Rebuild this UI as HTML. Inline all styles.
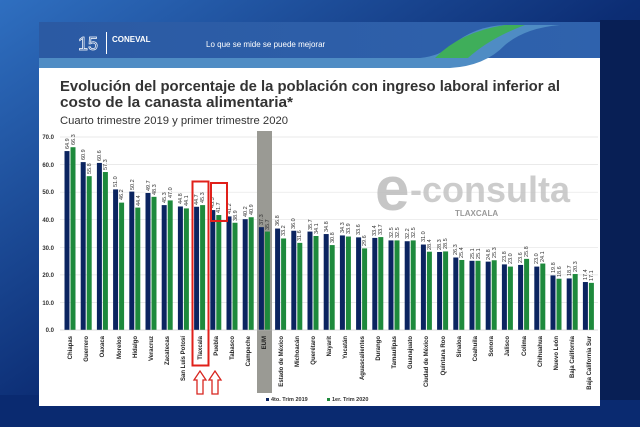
<!DOCTYPE html>
<html><head><meta charset="utf-8"><style>
html,body{margin:0;padding:0;width:640px;height:427px;overflow:hidden;background:#0b2f78;}
svg{display:block}
text{font-family:"Liberation Sans",sans-serif}
</style></head><body>
<svg width="640" height="427" viewBox="0 0 640 427">
<defs>
<linearGradient id="bg" x1="0" y1="0" x2="1" y2="1">
<stop offset="0" stop-color="#2f6fc0"/><stop offset="0.5" stop-color="#0c2d74"/><stop offset="1" stop-color="#061a4a"/>
</linearGradient>
<linearGradient id="hd" x1="0" y1="0" x2="1" y2="0">
<stop offset="0" stop-color="#2b5aa3"/><stop offset="1" stop-color="#2f62ad"/>
</linearGradient>
</defs>
<rect width="640" height="427" fill="url(#bg)"/>
<rect x="0" y="395" width="640" height="32" fill="#0a2a70"/>
<rect x="600" y="20" width="40" height="380" fill="#081f55"/>
<!-- panel -->
<rect x="39" y="22" width="561" height="384" fill="#fff"/>
<rect x="39" y="22" width="561" height="36" fill="url(#hd)"/>
<path d="M39 58 L420 58 Q440 56 452 45 Q475 26 505 25 L560 25 Q525 28 505 45 Q485 66 450 68 L39 68 Z" fill="#4f8cc4"/>
<path d="M435 58 Q460 32 505 25 L525 25 Q490 38 468 58 Z" fill="#3fae5a"/>
<text x="78" y="50" font-size="18" fill="none" stroke="#fff" stroke-width="0.7">15</text>
<rect x="106" y="32" width="1" height="22" fill="#fff"/>
<text x="112" y="42" font-size="8" font-weight="bold" fill="#fff">CONEVAL</text>
<text x="206" y="47" font-size="8" fill="#fff">Lo que se mide se puede mejorar</text>
<text x="60" y="91" font-size="14.5" font-weight="bold" fill="#333" textLength="500" lengthAdjust="spacingAndGlyphs">Evolución del porcentaje de la población con ingreso laboral inferior al</text>
<text x="60" y="107" font-size="14.5" font-weight="bold" fill="#333" textLength="233" lengthAdjust="spacingAndGlyphs">costo de la canasta alimentaria*</text>
<text x="60" y="124" font-size="11" fill="#333" textLength="228" lengthAdjust="spacingAndGlyphs">Cuarto trimestre 2019 y primer trimestre 2020</text>
<!-- grid -->
<g stroke="#e3e3e3" stroke-width="0.7">
<line x1="60" x2="598" y1="137" y2="137"/><line x1="60" x2="598" y1="164.6" y2="164.6"/><line x1="60" x2="598" y1="192.2" y2="192.2"/><line x1="60" x2="598" y1="219.7" y2="219.7"/><line x1="60" x2="598" y1="247.3" y2="247.3"/><line x1="60" x2="598" y1="274.9" y2="274.9"/><line x1="60" x2="598" y1="302.4" y2="302.4"/>
</g>
<g font-size="6" font-weight="bold" fill="#333" text-anchor="end">
<text x="54" y="139">70.0</text><text x="54" y="167">60.0</text><text x="54" y="194">50.0</text><text x="54" y="222">40.0</text><text x="54" y="250">30.0</text><text x="54" y="277">20.0</text><text x="54" y="305">10.0</text><text x="54" y="332">0.0</text>
</g>
<rect x="257" y="131" width="15" height="262" fill="#9a9a94"/>
<!-- watermark -->
<text x="375" y="210" font-size="62" font-weight="bold" fill="#bdbdbd" opacity="0.85">e</text>
<text x="410" y="202" font-size="36" font-weight="bold" fill="#c4c4c4" opacity="0.85">-consulta</text>
<text x="455" y="216" font-size="8" font-weight="bold" fill="#999">TLAXCALA</text>
<!-- bars -->
<g transform="translate(0,330) scale(1,-2.757)">
<g fill="#0b2460">
<rect x="64.5" width="5" height="64.9"/><rect x="80.7" width="5" height="60.9"/><rect x="96.9" width="5" height="60.6"/><rect x="113.1" width="5" height="51.0"/><rect x="129.3" width="5" height="50.2"/><rect x="145.5" width="5" height="49.7"/><rect x="161.7" width="5" height="45.3"/><rect x="177.9" width="5" height="44.8"/><rect x="194.1" width="5" height="44.7"/><rect x="210.3" width="5" height="43.5"/><rect x="226.5" width="5" height="41.2"/><rect x="242.7" width="5" height="40.2"/><rect x="258.9" width="5" height="37.3"/><rect x="275.1" width="5" height="36.8"/><rect x="291.3" width="5" height="36.0"/><rect x="307.5" width="5" height="35.7"/><rect x="323.7" width="5" height="34.8"/><rect x="339.9" width="5" height="34.3"/><rect x="356.1" width="5" height="33.6"/><rect x="372.3" width="5" height="33.4"/><rect x="388.5" width="5" height="32.5"/><rect x="404.7" width="5" height="32.2"/><rect x="420.9" width="5" height="31.0"/><rect x="437.1" width="5" height="28.3"/><rect x="453.3" width="5" height="26.3"/><rect x="469.5" width="5" height="25.1"/><rect x="485.7" width="5" height="24.8"/><rect x="501.9" width="5" height="23.8"/><rect x="518.1" width="5" height="23.6"/><rect x="534.3" width="5" height="23.0"/><rect x="550.5" width="5" height="19.8"/><rect x="566.7" width="5" height="18.7"/><rect x="582.9" width="5" height="17.4"/>
</g>
<g fill="#1e8a3c">
<rect x="70.5" width="5" height="66.3"/><rect x="86.7" width="5" height="55.8"/><rect x="102.9" width="5" height="57.3"/><rect x="119.1" width="5" height="46.2"/><rect x="135.3" width="5" height="44.4"/><rect x="151.5" width="5" height="48.3"/><rect x="167.7" width="5" height="47.0"/><rect x="183.9" width="5" height="44.1"/><rect x="200.1" width="5" height="45.3"/><rect x="216.3" width="5" height="41.7"/><rect x="232.5" width="5" height="38.9"/><rect x="248.7" width="5" height="40.9"/><rect x="264.9" width="5" height="35.7"/><rect x="281.1" width="5" height="33.2"/><rect x="297.3" width="5" height="31.6"/><rect x="313.5" width="5" height="34.1"/><rect x="329.7" width="5" height="30.8"/><rect x="345.9" width="5" height="33.9"/><rect x="362.1" width="5" height="29.6"/><rect x="378.3" width="5" height="33.7"/><rect x="394.5" width="5" height="32.5"/><rect x="410.7" width="5" height="32.5"/><rect x="426.9" width="5" height="28.4"/><rect x="443.1" width="5" height="28.5"/><rect x="459.3" width="5" height="25.4"/><rect x="475.5" width="5" height="25.1"/><rect x="491.7" width="5" height="25.3"/><rect x="507.9" width="5" height="23.0"/><rect x="524.1" width="5" height="25.8"/><rect x="540.3" width="5" height="24.1"/><rect x="556.5" width="5" height="18.6"/><rect x="572.7" width="5" height="20.3"/><rect x="588.9" width="5" height="17.1"/>
</g>
</g>
<line x1="60" x2="598" y1="330" y2="330" stroke="#bbb" stroke-width="0.6"/>
<!-- value labels -->
<g font-size="5.5" fill="#333">
<text transform="translate(69,149) rotate(-90)">64.9</text><text transform="translate(75,145) rotate(-90)">66.3</text>
<text transform="translate(85,160) rotate(-90)">60.9</text><text transform="translate(91,174) rotate(-90)">55.8</text>
<text transform="translate(101,161) rotate(-90)">60.6</text><text transform="translate(107,170) rotate(-90)">57.3</text>
<text transform="translate(117,187) rotate(-90)">51.0</text><text transform="translate(123,200) rotate(-90)">46.2</text>
<text transform="translate(134,190) rotate(-90)">50.2</text><text transform="translate(140,206) rotate(-90)">44.4</text>
<text transform="translate(150,191) rotate(-90)">49.7</text><text transform="translate(156,195) rotate(-90)">48.3</text>
<text transform="translate(166,203) rotate(-90)">45.3</text><text transform="translate(172,198) rotate(-90)">47.0</text>
<text transform="translate(182,204) rotate(-90)">44.8</text><text transform="translate(188,206) rotate(-90)">44.1</text>
<text transform="translate(198,205) rotate(-90)">44.7</text><text transform="translate(204,203) rotate(-90)">45.3</text>
<text transform="translate(214,208) rotate(-90)">43.5</text><text transform="translate(220,213) rotate(-90)">41.7</text>
<text transform="translate(231,214) rotate(-90)">41.2</text><text transform="translate(237,221) rotate(-90)">38.9</text>
<text transform="translate(247,217) rotate(-90)">40.2</text><text transform="translate(253,215) rotate(-90)">40.9</text>
<text transform="translate(263,225) rotate(-90)">37.3</text><text transform="translate(269,230) rotate(-90)">35.7</text>
<text transform="translate(279,226) rotate(-90)">36.8</text><text transform="translate(285,236) rotate(-90)">33.2</text>
<text transform="translate(295,229) rotate(-90)">36.0</text><text transform="translate(301,241) rotate(-90)">31.6</text>
<text transform="translate(312,230) rotate(-90)">35.7</text><text transform="translate(318,234) rotate(-90)">34.1</text>
<text transform="translate(328,232) rotate(-90)">34.8</text><text transform="translate(334,243) rotate(-90)">30.8</text>
<text transform="translate(344,233) rotate(-90)">34.3</text><text transform="translate(350,234) rotate(-90)">33.9</text>
<text transform="translate(360,235) rotate(-90)">33.6</text><text transform="translate(366,246) rotate(-90)">29.6</text>
<text transform="translate(376,236) rotate(-90)">33.4</text><text transform="translate(382,235) rotate(-90)">33.7</text>
<text transform="translate(393,238) rotate(-90)">32.5</text><text transform="translate(399,238) rotate(-90)">32.5</text>
<text transform="translate(409,239) rotate(-90)">32.2</text><text transform="translate(415,238) rotate(-90)">32.5</text>
<text transform="translate(425,242) rotate(-90)">31.0</text><text transform="translate(431,250) rotate(-90)">28.4</text>
<text transform="translate(441,250) rotate(-90)">28.3</text><text transform="translate(447,249) rotate(-90)">28.5</text>
<text transform="translate(457,255) rotate(-90)">26.3</text><text transform="translate(463,258) rotate(-90)">25.4</text>
<text transform="translate(474,259) rotate(-90)">25.1</text><text transform="translate(480,259) rotate(-90)">25.1</text>
<text transform="translate(490,260) rotate(-90)">24.8</text><text transform="translate(496,258) rotate(-90)">25.3</text>
<text transform="translate(506,262) rotate(-90)">23.8</text><text transform="translate(512,264) rotate(-90)">23.0</text>
<text transform="translate(522,263) rotate(-90)">23.6</text><text transform="translate(528,257) rotate(-90)">25.8</text>
<text transform="translate(538,264) rotate(-90)">23.0</text><text transform="translate(544,262) rotate(-90)">24.1</text>
<text transform="translate(555,273) rotate(-90)">19.8</text><text transform="translate(561,277) rotate(-90)">18.6</text>
<text transform="translate(571,276) rotate(-90)">18.7</text><text transform="translate(577,272) rotate(-90)">20.3</text>
<text transform="translate(587,280) rotate(-90)">17.4</text><text transform="translate(593,281) rotate(-90)">17.1</text>
</g>
<!-- category labels -->
<g font-size="6" font-weight="bold" fill="#222" text-anchor="end">
<text transform="translate(72,336) rotate(-90)">Chiapas</text>
<text transform="translate(88,336) rotate(-90)">Guerrero</text>
<text transform="translate(104,336) rotate(-90)">Oaxaca</text>
<text transform="translate(121,336) rotate(-90)">Morelos</text>
<text transform="translate(137,336) rotate(-90)">Hidalgo</text>
<text transform="translate(153,336) rotate(-90)">Veracruz</text>
<text transform="translate(169,336) rotate(-90)">Zacatecas</text>
<text transform="translate(185,336) rotate(-90)">San Luis Potosí</text>
<text transform="translate(202,336) rotate(-90)">Tlaxcala</text>
<text transform="translate(218,336) rotate(-90)">Puebla</text>
<text transform="translate(234,336) rotate(-90)">Tabasco</text>
<text transform="translate(250,336) rotate(-90)">Campeche</text>
<text transform="translate(266,336) rotate(-90)">EUM</text>
<text transform="translate(283,336) rotate(-90)">Estado de México</text>
<text transform="translate(299,336) rotate(-90)">Michoacán</text>
<text transform="translate(315,336) rotate(-90)">Querétaro</text>
<text transform="translate(331,336) rotate(-90)">Nayarit</text>
<text transform="translate(347,336) rotate(-90)">Yucatán</text>
<text transform="translate(364,336) rotate(-90)">Aguascalientes</text>
<text transform="translate(380,336) rotate(-90)">Durango</text>
<text transform="translate(396,336) rotate(-90)">Tamaulipas</text>
<text transform="translate(412,336) rotate(-90)">Guanajuato</text>
<text transform="translate(428,336) rotate(-90)">Ciudad de México</text>
<text transform="translate(445,336) rotate(-90)">Quintana Roo</text>
<text transform="translate(461,336) rotate(-90)">Sinaloa</text>
<text transform="translate(477,336) rotate(-90)">Coahuila</text>
<text transform="translate(493,336) rotate(-90)">Sonora</text>
<text transform="translate(509,336) rotate(-90)">Jalisco</text>
<text transform="translate(526,336) rotate(-90)">Colima</text>
<text transform="translate(542,336) rotate(-90)">Chihuahua</text>
<text transform="translate(558,336) rotate(-90)">Nuevo León</text>
<text transform="translate(574,336) rotate(-90)">Baja California</text>
<text transform="translate(591,336) rotate(-90)">Baja California Sur</text>
</g>
<!-- highlights -->
<g fill="none" stroke="#e0201a" stroke-width="2">
<rect x="192.5" y="181.5" width="16" height="184"/>
<rect x="211" y="183" width="16" height="38"/>
</g>
<g fill="none" stroke="#d8251f" stroke-width="1.3">
<path d="M197 394 L197 380 L194 380 L200 371 L206 380 L203 380 L203 394 Z"/>
<path d="M212 394 L212 380 L209 380 L215 371 L221 380 L218 380 L218 394 Z"/>
</g>
<!-- legend -->
<rect x="266" y="398" width="3" height="3" fill="#0b2460"/>
<text x="271" y="401" font-size="5.5" font-weight="bold" fill="#333">4to. Trim 2019</text>
<rect x="327" y="398" width="3" height="3" fill="#1e8a3c"/>
<text x="332" y="401" font-size="5.5" font-weight="bold" fill="#333">1er. Trim 2020</text>
</svg>
</body></html>
